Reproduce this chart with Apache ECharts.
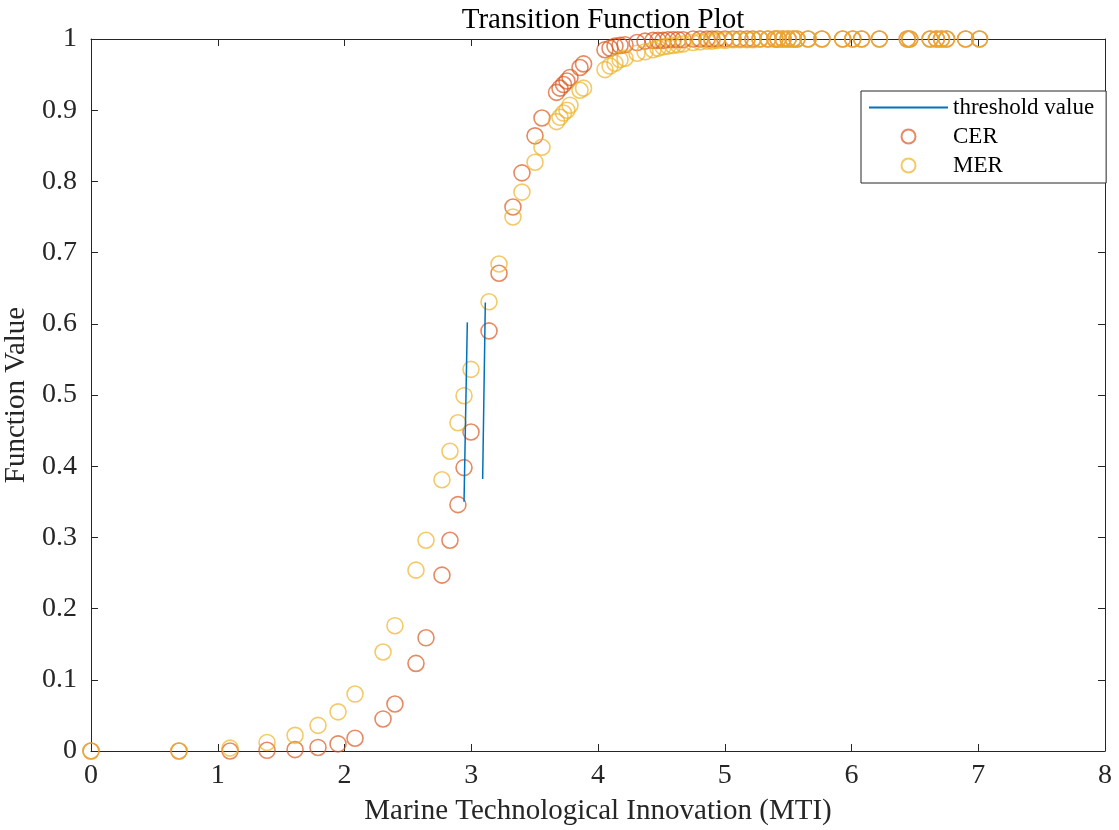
<!DOCTYPE html>
<html><head><meta charset="utf-8">
<script src="https://cdn.jsdelivr.net/npm/echarts@6/dist/echarts.min.js"></script>
<style>html,body{margin:0;padding:0;background:#fff}#c{width:1119px;height:830px}</style>
</head><body><div id="c"></div>
<script>
// ---- data ----
const mti = [0, 0.694, 1.097, 1.389, 1.61, 1.791, 1.949, 2.083, 2.304, 2.398,
  2.564, 2.643, 2.769, 2.832, 2.895, 2.943, 2.998, 3.14, 3.219, 3.329,
  3.4, 3.503, 3.558, 3.673, 3.7, 3.728, 3.755, 3.779, 3.858, 3.886,
  4.055, 4.095, 4.134, 4.174, 4.213, 4.308, 4.371, 4.434, 4.473, 4.513,
  4.552, 4.592, 4.631, 4.671, 4.75, 4.805, 4.86, 4.899, 4.939, 5.002,
  5.065, 5.12, 5.176, 5.223, 5.278, 5.341, 5.396, 5.42, 5.46, 5.5,
  5.54, 5.57, 5.657, 5.767, 5.93, 6.01, 6.08, 6.22, 6.44, 6.46,
  6.62, 6.67, 6.71, 6.75, 6.9, 7.01];
const cer = [0, 0, 0, 0.001, 0.002, 0.005, 0.01, 0.018, 0.045, 0.066,
  0.123, 0.159, 0.247, 0.296, 0.346, 0.398, 0.448, 0.59, 0.671, 0.764,
  0.812, 0.864, 0.889, 0.925, 0.931, 0.936, 0.941, 0.946, 0.96, 0.965,
  0.985, 0.987, 0.99, 0.991, 0.992, 0.995, 0.997, 0.998, 0.998, 0.998,
  0.999, 0.999, 0.999, 0.999, 1, 1, 1, 1, 1, 1,
  1, 1, 1, 1, 1, 1, 1, 1, 1, 1,
  1, 1, 1, 1, 1, 1, 1, 1, 1, 1,
  1, 1, 1, 1, 1, 1];
const mer = [0, 0, 0.004, 0.012, 0.022, 0.036, 0.055, 0.08, 0.139, 0.176,
  0.254, 0.296, 0.381, 0.421, 0.461, 0.499, 0.536, 0.631, 0.684, 0.75,
  0.785, 0.827, 0.848, 0.884, 0.89, 0.896, 0.9, 0.907, 0.928, 0.931,
  0.957, 0.962, 0.966, 0.971, 0.973, 0.98, 0.982, 0.985, 0.987, 0.989,
  0.99, 0.991, 0.992, 0.993, 0.995, 0.996, 0.997, 0.997, 0.998, 0.998,
  0.999, 0.999, 0.999, 0.999, 1, 1, 1, 1, 1, 1,
  1, 1, 1, 1, 1, 1, 1, 1, 1, 1,
  1, 1, 1, 1, 1, 1];
const thr1X = [2.943, 2.969];
const thr1Y = [0.350, 0.602];
const thr2X = [3.090, 3.111];
const thr2Y = [0.382, 0.630];
const xRange = [0, 8], xStep = 1;
const yRange = [0, 1], yStep = 0.1;
const seriesNames = ['threshold value', 'CER', 'MER'];
const titleText = 'Transition Function Plot';
const xName = 'Marine Technological Innovation (MTI)';
const yName = 'Function Value';

// ---- chart ----
const FONT = "'Liberation Serif','Times New Roman',serif";
const AX = '#262626';
const zip = (a, b) => a.map((v, i) => [v, b[i]]);
const chart = echarts.init(document.getElementById('c'), null, {renderer: 'canvas'});
const axisCommon = {
  type: 'value',
  axisLine: {show: true, onZero: false, lineStyle: {color: AX, width: 1}},
  axisTick: {show: true, inside: true, length: 7, lineStyle: {color: AX, width: 1}},
  splitLine: {show: false}
};
chart.setOption({
  animation: false,
  backgroundColor: '#fff',
  title: {
    text: titleText, left: 598, top: 1, textAlign: 'center',
    textStyle: {fontFamily: FONT, fontSize: 29, fontWeight: 'normal', color: '#000'}
  },
  grid: {left: 91, right: 14, top: 39, bottom: 79, containLabel: false, outerBoundsMode: 'none'},
  legend: {
    data: [
      {name: seriesNames[0], itemStyle: {opacity: 0, color: 'rgba(0,0,0,0)', borderWidth: 0}},
      seriesNames[1], seriesNames[2]
    ],
    orient: 'vertical', left: 861, top: 91,
    padding: [5, 12, 6, 7], itemWidth: 79, itemHeight: 14, itemGap: 6,
    borderColor: AX, borderWidth: 1, backgroundColor: '#fff', selectedMode: false,
    textStyle: {fontFamily: FONT, fontSize: 23, color: '#000'}
  },
  xAxis: [
    Object.assign({}, axisCommon, {
      min: xRange[0], max: xRange[1], interval: xStep, position: 'bottom',
      axisLabel: {fontFamily: FONT, fontSize: 28, color: AX, margin: 11},
      name: xName, nameLocation: 'middle', nameGap: 46,
      nameTextStyle: {fontFamily: FONT, fontSize: 29, color: AX}
    }),
    Object.assign({}, axisCommon, {
      min: xRange[0], max: xRange[1], interval: xStep, position: 'top',
      axisLabel: {show: false}
    })
  ],
  yAxis: [
    Object.assign({}, axisCommon, {
      min: yRange[0], max: yRange[1], interval: yStep, position: 'left',
      axisLabel: {fontFamily: FONT, fontSize: 28, color: AX, margin: 14},
      name: yName, nameLocation: 'middle', nameGap: 48,
      nameTextStyle: {fontFamily: FONT, fontSize: 29, color: AX}
    }),
    Object.assign({}, axisCommon, {
      min: yRange[0], max: yRange[1], interval: yStep, position: 'right',
      axisLabel: {show: false}
    })
  ],
  series: [
    {name: seriesNames[0], type: 'line', data: zip(thr1X, thr1Y), symbol: 'none', z: 4,
     lineStyle: {color: '#0072BD', width: 1.5}, itemStyle: {color: '#0072BD'}},
    {name: seriesNames[0], type: 'line', data: zip(thr2X, thr2Y), symbol: 'none', z: 4,
     lineStyle: {color: '#0072BD', width: 1.5}, itemStyle: {color: '#0072BD'}},
    {name: seriesNames[1], type: 'scatter', data: zip(mti, cer), symbol: 'circle', symbolSize: 16,
     itemStyle: {color: 'rgba(0,0,0,0)', borderColor: 'rgba(217,83,25,0.85)', borderWidth: 1.6}},
    {name: seriesNames[2], type: 'scatter', data: zip(mti, mer), symbol: 'circle', symbolSize: 16,
     itemStyle: {color: 'rgba(0,0,0,0)', borderColor: 'rgba(237,177,32,0.85)', borderWidth: 1.6}}
  ]
});
</script>
</body></html>
